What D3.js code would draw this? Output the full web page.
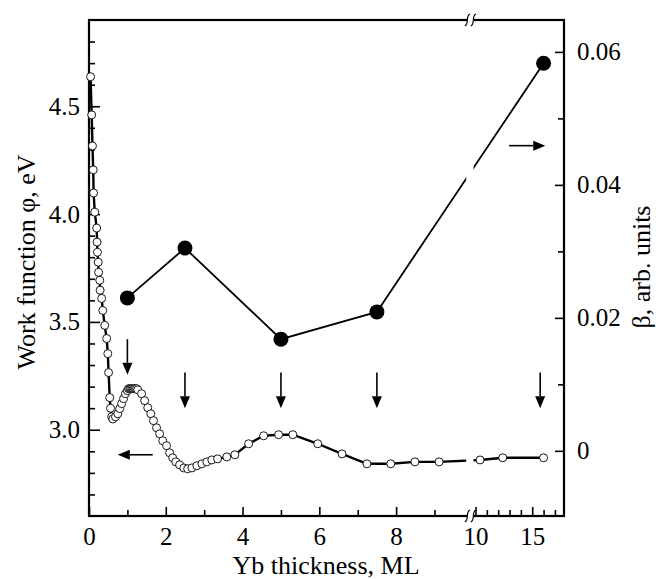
<!DOCTYPE html>
<html>
<head>
<meta charset="utf-8">
<script src="https://cdn.jsdelivr.net/npm/d3@7"></script>
<style>
  body { margin: 0; background: #fff; }
  svg text { font-family: "Liberation Serif", "Times New Roman", serif; fill: #000; }
</style>
</head>
<body>
<div id="chart"></div>
<script>
// work function (open circles, left axis)
var phiThick = [0.04, 0.07, 0.09, 0.11, 0.12, 0.15, 0.20, 0.21, 0.22, 0.24, 0.25, 0.28, 0.29, 0.33, 0.36, 0.41, 0.46, 0.49, 0.51, 0.54,
  0.56, 0.59, 0.62, 0.69, 0.75, 0.80, 0.85, 0.90, 0.95, 1.00, 1.03, 1.06, 1.09, 1.12, 1.15, 1.18, 1.21, 1.24, 1.27,
  1.37, 1.45, 1.53, 1.61, 1.68, 1.76, 1.84, 1.92, 2.02, 2.10, 2.18, 2.26, 2.36, 2.47, 2.57, 2.68, 2.81, 2.94, 3.07, 3.20, 3.35, 3.59, 3.80,
  4.16, 4.55, 4.94, 5.31, 5.96, 6.59, 7.24, 7.86, 8.49, 9.12, 10.4, 12.4, 16.0];
var phiValues = [4.637, 4.460, 4.316, 4.205, 4.098, 4.009, 3.935, 3.870, 3.823, 3.777, 3.730, 3.693, 3.647, 3.609, 3.553, 3.484, 3.423, 3.353, 3.265, 3.149,
  3.100, 3.060, 3.050, 3.060, 3.074, 3.098, 3.121, 3.144, 3.167, 3.181, 3.190, 3.191, 3.191, 3.191, 3.191, 3.191, 3.191, 3.190, 3.185,
  3.167, 3.135, 3.102, 3.074, 3.042, 3.009, 2.981, 2.949, 2.926, 2.893, 2.870, 2.851, 2.837, 2.823, 2.819, 2.823, 2.833, 2.842, 2.851, 2.860, 2.865, 2.874, 2.884,
  2.935, 2.972, 2.977, 2.977, 2.935, 2.888, 2.842, 2.842, 2.851, 2.851, 2.860, 2.870, 2.870];

// beta (filled circles, right axis)
var betaThick = [1.0, 2.5, 5.0, 7.5, 16.0];
var betaValues = [0.0230, 0.0305, 0.0168, 0.0209, 0.0583];

// annotation arrows
var downArrowX = [1.0, 2.5, 5.0, 7.5, 15.7];
var downArrowTop = [3.42, 3.265, 3.265, 3.265, 3.265];
var downArrowTip = [3.255, 3.10, 3.10, 3.10, 3.10];

// ticks
var xMajor = [0, 2, 4, 6, 8, 10, 15];
var xMinor = [1, 3, 5, 7, 9, 11, 12, 13, 14, 16, 17];
var phiMajor = [3.0, 3.5, 4.0, 4.5];
var phiMinor = [2.7, 2.8, 2.9, 3.1, 3.2, 3.3, 3.4, 3.6, 3.7, 3.8, 3.9, 4.1, 4.2, 4.3, 4.4, 4.6, 4.7, 4.8];
var betaMajor = [0, 0.02, 0.04, 0.06];
var betaLabels = ["0", "0.02", "0.04", "0.06"];
var betaMinor = [0.01, 0.03, 0.05];

var width = 656, height = 579;
var plotL = 89, plotR = 564, plotT = 20, plotB = 516;
var serif = '"Liberation Serif", "Times New Roman", serif';

var svg = d3.select('#chart').append('svg')
  .attr('width', width)
  .attr('height', height);

// broken x scale: 0..9.8 wide, 10..17.8 compressed
var x = d3.scaleLinear()
  .domain([0, 9.8, 10, 17.8])
  .range([plotL, 465.2, 475.5, plotR]);
var yPhi = d3.scaleLinear().domain([2.6, 4.9]).range([plotB, plotT]);
var yBeta = d3.scaleLinear().domain([-0.0098, 0.0648]).range([plotB, plotT]);

// axes
function styleAxis(g) {
  g.attr('font-family', serif).attr('font-size', 25);
  g.select('.domain').remove();
  g.selectAll('line').attr('stroke', '#000').attr('stroke-width', 1.6);
  g.selectAll('text').style('font-family', serif).style('font-size', '25px');
}

svg.append('g').attr('transform', 'translate(0,' + plotB + ')')
  .call(d3.axisBottom(x).tickValues(xMajor).tickSize(-9).tickPadding(11).tickFormat(d3.format('d')))
  .call(styleAxis);
svg.append('g').attr('transform', 'translate(0,' + plotB + ')')
  .call(d3.axisBottom(x).tickValues(xMinor).tickSize(-6).tickFormat(''))
  .call(styleAxis);

svg.append('g').attr('transform', 'translate(' + plotL + ',0)')
  .call(d3.axisLeft(yPhi).tickValues(phiMajor).tickSize(-11).tickPadding(9).tickFormat(d3.format('.1f')))
  .call(styleAxis);
svg.append('g').attr('transform', 'translate(' + plotL + ',0)')
  .call(d3.axisLeft(yPhi).tickValues(phiMinor).tickSize(-6).tickFormat(''))
  .call(styleAxis);

svg.append('g').attr('transform', 'translate(' + plotR + ',0)')
  .call(d3.axisRight(yBeta).tickValues(betaMajor).tickSize(-9).tickPadding(13)
    .tickFormat(function(d, i) { return betaLabels[i]; }))
  .call(styleAxis);
svg.append('g').attr('transform', 'translate(' + plotR + ',0)')
  .call(d3.axisRight(yBeta).tickValues(betaMinor).tickSize(-6).tickFormat(''))
  .call(styleAxis);

// frame
svg.append('rect')
  .attr('x', plotL).attr('y', plotT)
  .attr('width', plotR - plotL).attr('height', plotB - plotT)
  .attr('fill', 'none').attr('stroke', '#000').attr('stroke-width', 2.2);

// axis break marks on top and bottom
var breakX = (x(9.8) + x(10)) / 2;
[plotT, plotB].forEach(function(yy) {
  svg.append('rect').attr('x', breakX - 3).attr('y', yy - 2).attr('width', 6).attr('height', 4).attr('fill', '#fff');
  [-3, 3].forEach(function(dx) {
    var cx = breakX + dx;
    svg.append('path')
      .attr('d', 'M' + (cx - 2.5) + ',' + (yy + 6) + ' C' + (cx + 2) + ',' + (yy + 4) + ' ' + (cx - 2) + ',' + (yy - 4) + ' ' + (cx + 2.5) + ',' + (yy - 6))
      .attr('fill', 'none').attr('stroke', '#000').attr('stroke-width', 1.2);
  });
});

// clip out the gap at the break for the lines
var clip = svg.append('clipPath').attr('id', 'gap');
clip.append('rect').attr('x', 0).attr('y', 0).attr('width', x(9.8) + 1).attr('height', height);
clip.append('rect').attr('x', x(10) - 2).attr('y', 0).attr('width', width).attr('height', height);

var phiData = phiThick.map(function(d, i) { return { t: d, v: phiValues[i] }; });
var betaData = betaThick.map(function(d, i) { return { t: d, v: betaValues[i] }; });

svg.append('path')
  .datum(phiData)
  .attr('clip-path', 'url(#gap)')
  .attr('fill', 'none').attr('stroke', '#000').attr('stroke-width', 2.4)
  .attr('d', d3.line().x(function(d) { return x(d.t); }).y(function(d) { return yPhi(d.v); }));

svg.append('path')
  .datum(betaData)
  .attr('clip-path', 'url(#gap)')
  .attr('fill', 'none').attr('stroke', '#000').attr('stroke-width', 1.8)
  .attr('d', d3.line().x(function(d) { return x(d.t); }).y(function(d) { return yBeta(d.v); }));

svg.selectAll('.phi-dot')
  .data(phiData).enter()
  .append('circle').attr('class', 'phi-dot')
  .attr('cx', function(d) { return x(d.t); })
  .attr('cy', function(d) { return yPhi(d.v); })
  .attr('r', 4)
  .attr('fill', '#fff').attr('stroke', '#000').attr('stroke-width', 0.9);

svg.selectAll('.beta-dot')
  .data(betaData).enter()
  .append('circle').attr('class', 'beta-dot')
  .attr('cx', function(d) { return x(d.t); })
  .attr('cy', function(d) { return yBeta(d.v); })
  .attr('r', 7.5)
  .attr('fill', '#000');

// arrows
function arrow(x1, y1, x2, y2) {
  var a = Math.atan2(y2 - y1, x2 - x1);
  var len = 12, half = 5;
  var bx = x2 - len * Math.cos(a), by = y2 - len * Math.sin(a);
  svg.append('line').attr('x1', x1).attr('y1', y1).attr('x2', bx).attr('y2', by)
    .attr('stroke', '#000').attr('stroke-width', 1.6);
  svg.append('path')
    .attr('d', 'M' + x2 + ',' + y2 +
      ' L' + (bx + half * Math.sin(a)) + ',' + (by - half * Math.cos(a)) +
      ' L' + (bx - half * Math.sin(a)) + ',' + (by + half * Math.cos(a)) + 'Z')
    .attr('fill', '#000');
}
downArrowX.forEach(function(d, i) {
  arrow(x(d), yPhi(downArrowTop[i]), x(d), yPhi(downArrowTip[i]));
});
arrow(x(1.66), yPhi(2.884), x(0.75), yPhi(2.884));
arrow(x(12.96), yBeta(0.0459), x(16.15), yBeta(0.0459));

// titles
svg.append('text')
  .attr('x', 326).attr('y', 574)
  .attr('text-anchor', 'middle')
  .style('font-size', '26px')
  .text('Yb thickness, ML');

svg.append('text')
  .attr('transform', 'translate(35,262) rotate(-90)')
  .attr('text-anchor', 'middle')
  .style('font-size', '26px')
  .text('Work function φ, eV');

svg.append('text')
  .attr('transform', 'translate(650,267) rotate(-90)')
  .attr('text-anchor', 'middle')
  .style('font-size', '26px')
  .text('β, arb. units');
</script>
</body>
</html>
